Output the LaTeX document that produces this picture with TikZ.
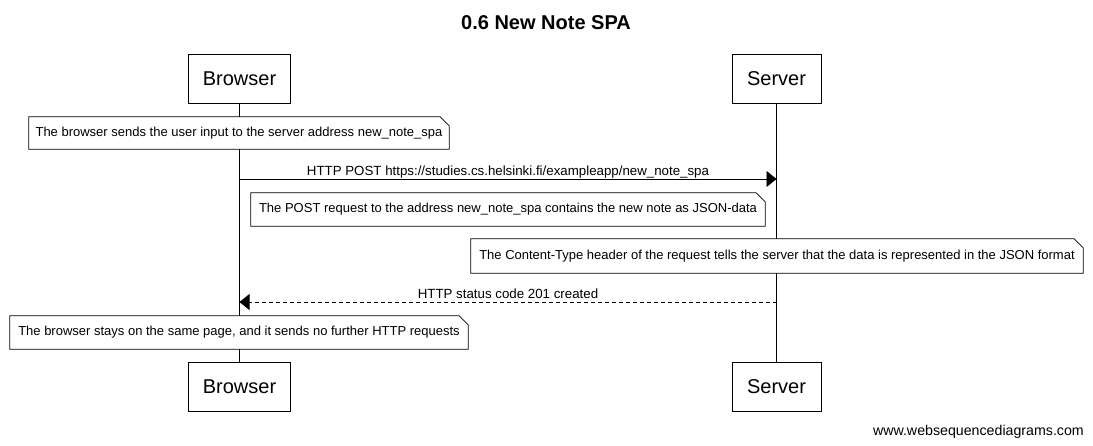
\documentclass[tikz,border=0pt]{standalone}
\usepackage{fontspec}
\setmainfont{Liberation Sans}
\usetikzlibrary{arrows.meta}
\begin{document}
\begin{tikzpicture}[x=1pt,y=-1pt,
  actor/.style={draw,line width=0.8pt,fill=white,inner sep=0pt,minimum height=49pt,font=\fontsize{20}{24}\selectfont},
  notebox/.style={inner sep=0pt,font=\fontsize{13}{15}\selectfont},
  lifeline/.style={line width=0.8pt},
  msg/.style={line width=0.8pt,-{Triangle[length=10pt,width=16pt]}},
  reply/.style={msg,dash pattern=on 4pt off 3pt},
  msglabel/.style={anchor=base,inner sep=0pt,font=\fontsize{13.3}{15}\selectfont},
  notefold/.style={line width=0.8pt,fill=white}
]
\useasboundingbox (0,0) rectangle (1093,445);
\fill[white] (0,0) rectangle (1093,445);

\node[font=\fontsize{20}{24}\selectfont\bfseries,anchor=base] (title) at (546,29) {0.6 New Note SPA};

% actors
\node[actor,minimum width=102pt] (bt) at (239.5,78.5) {Browser};
\node[actor,minimum width=89pt] (st) at (776.5,78.5) {Server};
\node[actor,minimum width=102pt] (bb) at (239.5,386.5) {Browser};
\node[actor,minimum width=89pt] (sb) at (776.5,386.5) {Server};

% lifelines
\draw[lifeline] (bt.south) -- (bb.north);
\draw[lifeline] (st.south) -- (sb.north);

% note frames
\node[notebox,minimum width=420pt,minimum height=32pt] (n1) at (239,133) {};
\node[notebox,minimum width=514pt,minimum height=33pt] (n2) at (508,209.5) {};
\node[notebox,minimum width=612pt,minimum height=34pt] (n3) at (777,256) {};
\node[notebox,minimum width=458pt,minimum height=33pt] (n4) at (239,332.5) {};

\foreach \n in {n1,n2,n3,n4}{
  \draw[notefold] (\n.south west) -- (\n.north west) -- ([xshift=-9pt]\n.north east)
     -- ([yshift=-9pt]\n.north east) -- (\n.south east) -- cycle;
}
\node[notebox] (t1) at (n1) {The browser sends the user input to the server address new\_note\_spa};
\node[notebox] (t2) at (n2) {The POST request to the address new\_note\_spa contains the new note as JSON-data};
\node[notebox] (t3) at (n3) {The Content-Type header of the request tells the server that the data is represented in the JSON format};
\node[notebox] (t4) at (n4) {The browser stays on the same page, and it sends no further HTTP requests};

% messages
\coordinate (b1) at (239.5,179);
\coordinate (s1) at (776.5,179);
\coordinate (b2) at (239.5,302);
\coordinate (s2) at (776.5,302);
\draw[msg] (b1) -- (s1);
\node[msglabel] (l1) at (508,175) {HTTP POST https://studies.cs.helsinki.fi/exampleapp/new\_note\_spa};
\draw[reply] (s2) -- (b2);
\node[msglabel] (l2) at (508,298) {HTTP status code 201 created};

% footer
\node[anchor=base east,inner sep=0pt,font=\fontsize{14.2}{16}\selectfont] (footer) at (1084,435) {www.websequencediagrams.com};
\end{tikzpicture}
\end{document}
